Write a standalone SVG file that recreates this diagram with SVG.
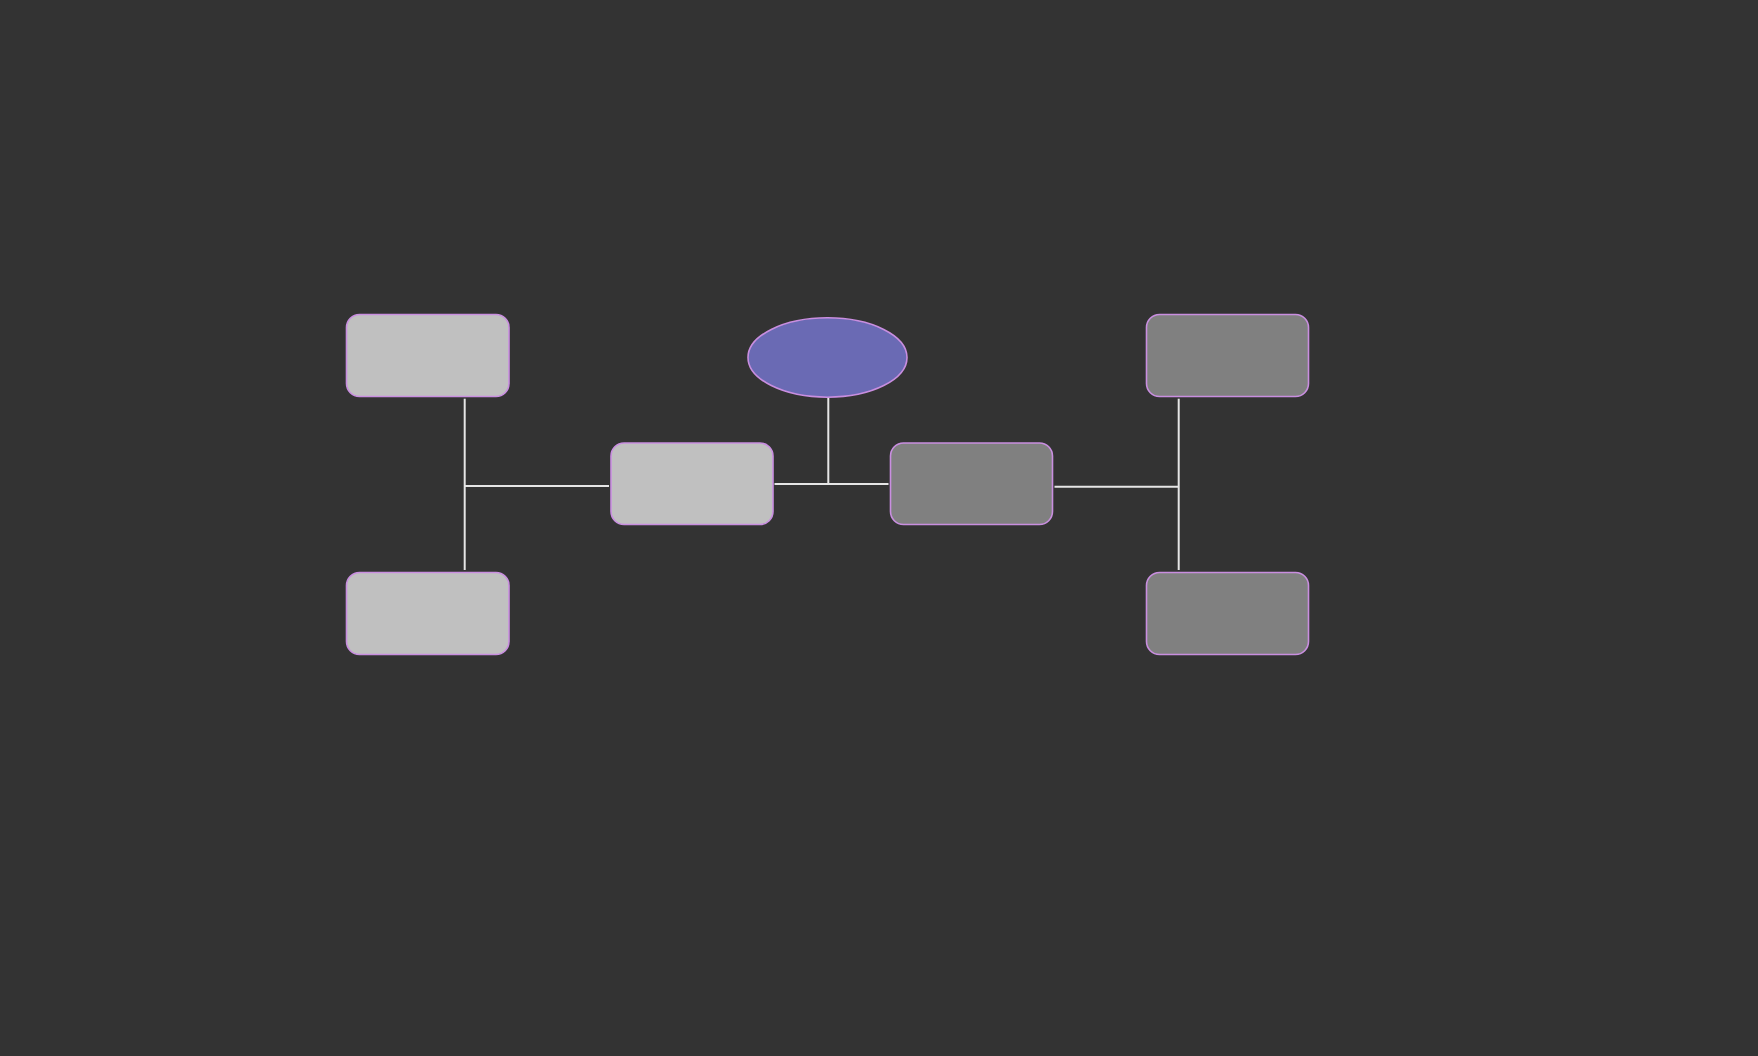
<svg xmlns="http://www.w3.org/2000/svg" width="1758" height="1056" viewBox="0 0 1758 1056">
<style>
.box{stroke:#c98ee0;stroke-width:1.6}
.light{fill:#c0c0c0}
.dark{fill:#808080}
.conn{stroke:#e6e6e6;stroke-width:2;fill:none}
</style>
<rect x="0" y="0" width="1758" height="1056" fill="#333333"/>
<g id="connectors">
<path class="conn" d="M464.7,398.7 V570"/>
<path class="conn" d="M464.7,486 H609"/>
<path class="conn" d="M828.3,397.5 V484"/>
<path class="conn" d="M774.5,484 H888.5"/>
<path class="conn" d="M1054.5,486.7 H1178.7"/>
<path class="conn" d="M1178.7,398.7 V570"/>
</g>
<g id="node-top-left"><rect class="box light" x="346.5" y="314.5" width="162.5" height="82" rx="13"/></g>
<g id="node-bottom-left"><rect class="box light" x="346.5" y="572.5" width="162.5" height="82" rx="13"/></g>
<g id="node-center-left"><rect class="box light" x="611" y="443" width="162" height="81.5" rx="13"/></g>
<g id="node-root"><ellipse class="box" fill="#6a6ab4" cx="827.5" cy="357.5" rx="79.5" ry="39.7"/></g>
<g id="node-center-right"><rect class="box dark" x="890.5" y="443" width="162" height="81.5" rx="13"/></g>
<g id="node-top-right"><rect class="box dark" x="1146.5" y="314.5" width="162" height="82" rx="13"/></g>
<g id="node-bottom-right"><rect class="box dark" x="1146.5" y="572.5" width="162" height="82" rx="13"/></g>
</svg>
